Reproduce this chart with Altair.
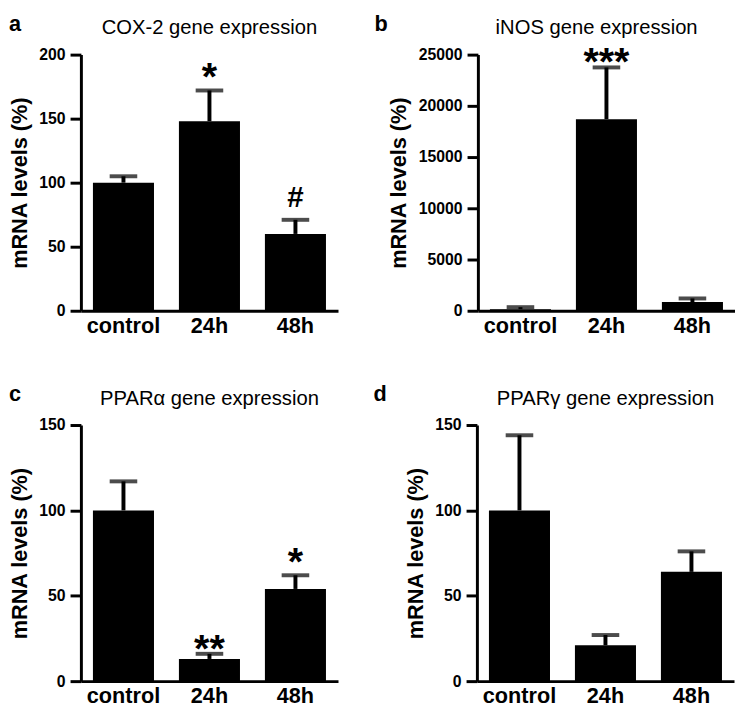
import altair as alt
import pandas as pd

groups = ["control", "24h", "48h"]

cox2_mean = [100, 148, 60]
cox2_err = [105, 172, 71]
cox2_sig = ["", "*", "#"]

inos_mean = [150, 18700, 850]
inos_err = [350, 23750, 1200]
inos_sig = ["", "***", ""]

ppara_mean = [100, 13, 54]
ppara_err = [117, 16, 62]
ppara_sig = ["", "**", "*"]

pparg_mean = [100, 21, 64]
pparg_err = [144, 27, 76]
pparg_sig = ["", "", ""]

FONT = "Liberation Sans"
W, H = 261, 260


def panel(letter, title, mean, err, sig, ymax, ystep, letter_x, title_dx):
    df = pd.DataFrame({"group": groups, "mean": mean, "err": err, "sig": sig})
    xenc = alt.X(
        "group:N", sort=groups, title=None,
        scale=alt.Scale(paddingInner=0.29, paddingOuter=0.14),
        axis=alt.Axis(labelAngle=0, ticks=False, labelFontSize=22,
                      labelFontWeight="bold", labelPadding=5, domainWidth=3),
    )
    yaxis = alt.Axis(values=list(range(0, ymax + 1, ystep)), format="d", grid=False,
                     tickSize=11, tickWidth=3, domainWidth=3, labelFontSize=16,
                     labelFontWeight="bold", labelPadding=5, titleFontSize=22,
                     titleFontWeight="bold", titlePadding=8)
    ysc = alt.Scale(domain=[0, ymax], nice=False)

    def yenc(field):
        return alt.Y(field, scale=ysc, title="mRNA levels (%)", axis=yaxis)

    base = alt.Chart(df)
    bars = base.mark_bar(color="black").encode(x=xenc, y=yenc("mean:Q"))
    rule = base.mark_rule(color="black", strokeWidth=4).encode(
        x=xenc, y=yenc("mean:Q"), y2="err:Q")
    cap = base.mark_tick(color="black", thickness=4, size=28, orient="horizontal").encode(
        x=xenc, y=yenc("err:Q"))
    layers = [bars, rule, cap]
    hash_t = base.transform_filter("datum.sig == '#'").mark_text(
        fontSize=30, fontWeight="bold", baseline="alphabetic", dy=-13, color="black"
    ).encode(x=xenc, y=yenc("err:Q"), text="sig:N")
    one_t = base.transform_filter("datum.sig == '*'").mark_text(
        fontSize=40, fontWeight="bold", baseline="alphabetic", dy=0, color="black"
    ).encode(x=xenc, y=yenc("err:Q"), text="sig:N")
    multi_t = base.transform_filter("length(datum.sig) > 1").mark_text(
        fontSize=40, fontWeight="bold", baseline="alphabetic", dy=8, color="black"
    ).encode(x=xenc, y=yenc("err:Q"), text="sig:N")
    layers += [hash_t, one_t, multi_t]
    lab = alt.Chart(pd.DataFrame({"letter": [letter]})).mark_text(
        fontSize=22, fontWeight="bold", align="left", baseline="alphabetic", color="black"
    ).encode(x=alt.value(letter_x), y=alt.value(-24), text="letter:N")
    layers.append(lab)
    return alt.layer(*layers).properties(
        width=W, height=H,
        title=alt.TitleParams(title, fontSize=20.5, fontWeight="normal", anchor="middle",
                              frame="group", offset=0, dy=26, dx=title_dx, color="black"),
    )


a = panel("a", "COX-2 gene expression", cox2_mean, cox2_err, cox2_sig, 200, 50, -73, 0)
b = panel("b", "iNOS gene expression", inos_mean, inos_err, inos_sig, 25000, 5000, -105, -10)
c = panel("c", "PPARα gene expression", ppara_mean, ppara_err, ppara_sig, 150, 50, -73, 0)
d = panel("d", "PPARγ gene expression", pparg_mean, pparg_err, pparg_sig, 150, 50, -105, 0)

chart = alt.vconcat(
    alt.hconcat(a, b, spacing=37),
    alt.hconcat(c, d, spacing=36),
    spacing=48,
).properties(padding=0).configure_view(stroke=None).configure_axis(
    labelFont=FONT, titleFont=FONT, labelColor="black", titleColor="black",
    domainColor="black", tickColor="black",
).configure_title(font=FONT).configure_text(font=FONT)

chart.save("out.html", embed_options={"renderer": "svg", "actions": False})
